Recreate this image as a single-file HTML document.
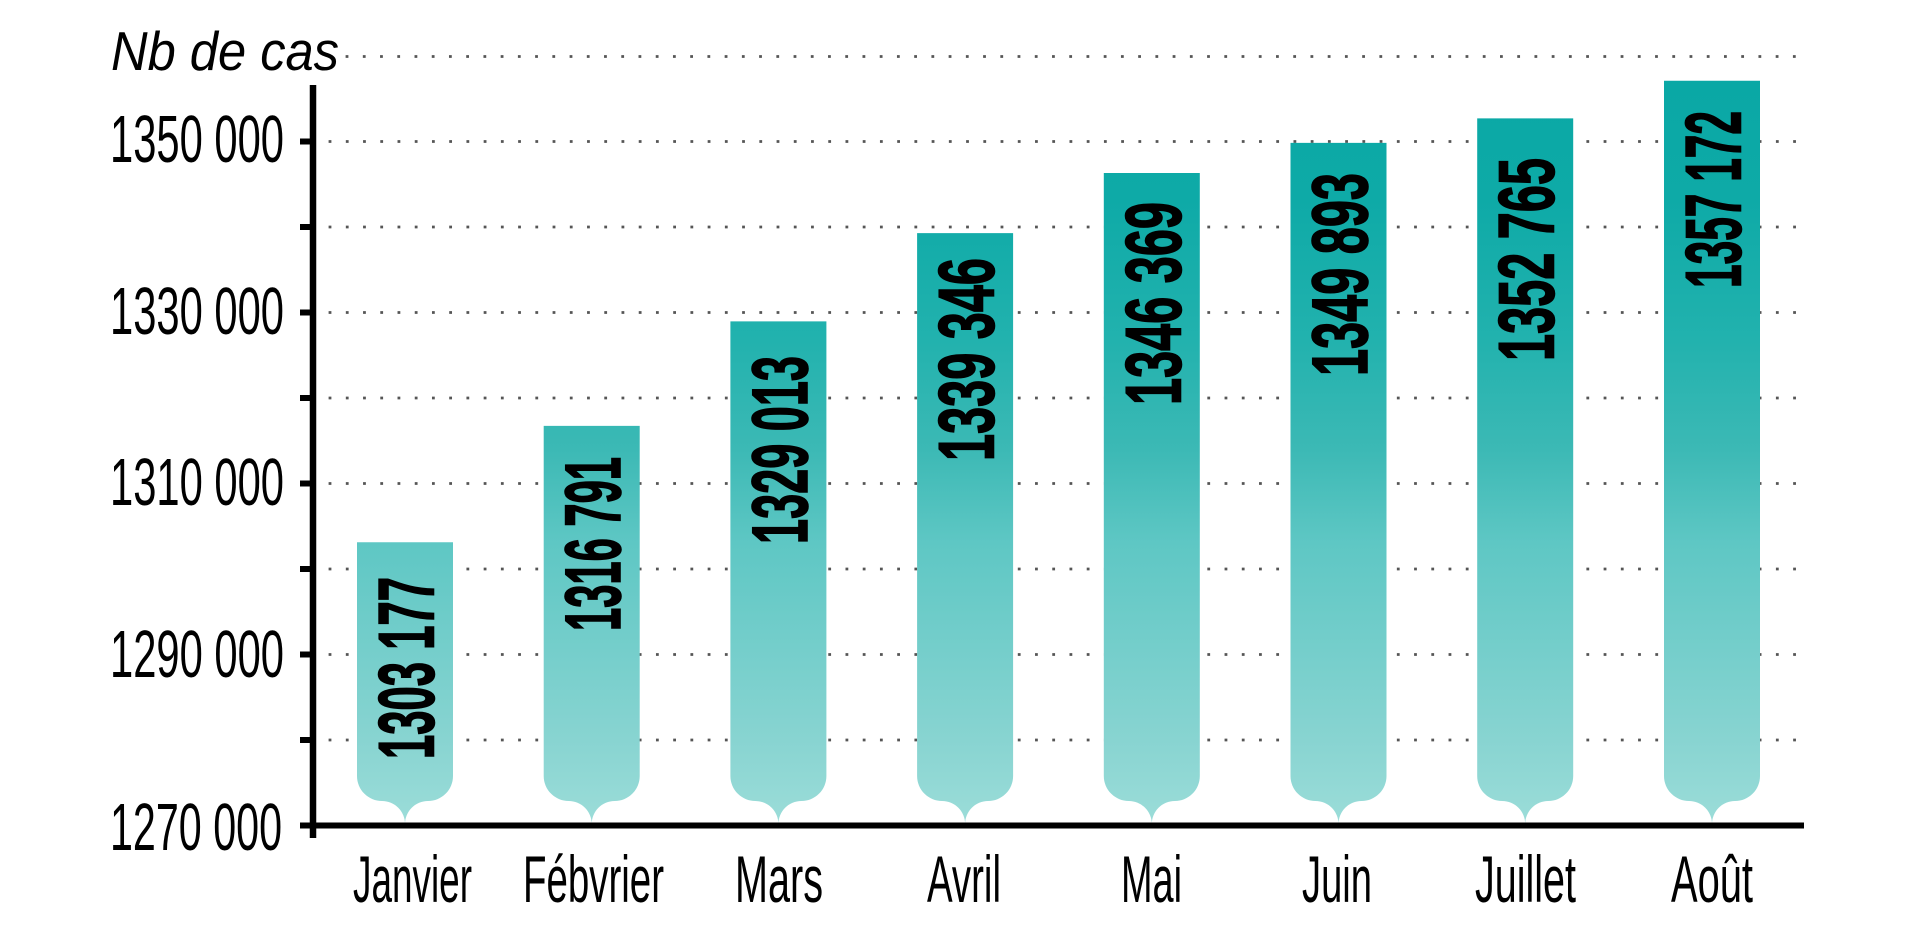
<!DOCTYPE html>
<html>
<head>
<meta charset="utf-8">
<style>
html,body{margin:0;padding:0;background:#fff;}
svg{display:block;}
</style>
</head>
<body>
<svg width="1920" height="948" viewBox="0 0 1920 948" xmlns="http://www.w3.org/2000/svg">
  <defs>
    <linearGradient id="g" gradientUnits="userSpaceOnUse" x1="0" y1="80" x2="0" y2="826">
      <stop offset="0" stop-color="#0aa8a5"/>
      <stop offset="0.16" stop-color="#0eaaa7"/>
      <stop offset="0.35" stop-color="#22b2ae"/>
      <stop offset="0.496" stop-color="#3cb9b5"/>
      <stop offset="0.62" stop-color="#5ec7c4"/>
      <stop offset="0.885" stop-color="#88d4d1"/>
      <stop offset="1" stop-color="#9cddd9"/>
    </linearGradient>
  </defs>

  <!-- dotted grid -->
  <g stroke="#555" stroke-width="2.8" stroke-dasharray="2.8 14.43" fill="none">
    <line x1="345.6" y1="56.5" x2="1797" y2="56.5"/>
    <line x1="328.6" y1="141.5" x2="1797" y2="141.5"/>
    <line x1="328.6" y1="227" x2="1797" y2="227"/>
    <line x1="328.6" y1="312.5" x2="1797" y2="312.5"/>
    <line x1="328.6" y1="398" x2="1797" y2="398"/>
    <line x1="328.6" y1="483.5" x2="1797" y2="483.5"/>
    <line x1="328.6" y1="569" x2="1797" y2="569"/>
    <line x1="328.6" y1="654.5" x2="1797" y2="654.5"/>
    <line x1="328.6" y1="740" x2="1797" y2="740"/>
  </g>

  <!-- bars -->
  <g fill="url(#g)">
    <path d="M357,542.3 H453 V776 A25,25 0 0 1 428,801 H428 A23,23 0 0 0 405,824 A23,23 0 0 0 382,801 H382 A25,25 0 0 1 357,776 Z"/>
    <path d="M543.7,425.9 H639.7 V776 A25,25 0 0 1 614.7,801 H614.7 A23,23 0 0 0 591.7,824 A23,23 0 0 0 568.7,801 H568.7 A25,25 0 0 1 543.7,776 Z"/>
    <path d="M730.4,321.4 H826.4 V776 A25,25 0 0 1 801.4,801 H801.4 A23,23 0 0 0 778.4,824 A23,23 0 0 0 755.4,801 H755.4 A25,25 0 0 1 730.4,776 Z"/>
    <path d="M917.1,233.1 H1013.1 V776 A25,25 0 0 1 988.1,801 H988.1 A23,23 0 0 0 965.1,824 A23,23 0 0 0 942.1,801 H942.1 A25,25 0 0 1 917.1,776 Z"/>
    <path d="M1103.8,173 H1199.8 V776 A25,25 0 0 1 1174.8,801 H1174.8 A23,23 0 0 0 1151.8,824 A23,23 0 0 0 1128.8,801 H1128.8 A25,25 0 0 1 1103.8,776 Z"/>
    <path d="M1290.5,142.9 H1386.5 V776 A25,25 0 0 1 1361.5,801 H1361.5 A23,23 0 0 0 1338.5,824 A23,23 0 0 0 1315.5,801 H1315.5 A25,25 0 0 1 1290.5,776 Z"/>
    <path d="M1477.2,118.4 H1573.2 V776 A25,25 0 0 1 1548.2,801 H1548.2 A23,23 0 0 0 1525.2,824 A23,23 0 0 0 1502.2,801 H1502.2 A25,25 0 0 1 1477.2,776 Z"/>
    <path d="M1664,80.7 H1760 V776 A25,25 0 0 1 1735,801 H1735 A23,23 0 0 0 1712,824 A23,23 0 0 0 1689,801 H1689 A25,25 0 0 1 1664,776 Z"/>
  </g>

  <!-- bar value labels -->
  <g font-family="'Liberation Sans', sans-serif" font-weight="bold" font-size="79" fill="#000" stroke="#000" stroke-width="1.6">
    <text transform="translate(433.5,759) rotate(-90)" textLength="182" lengthAdjust="spacingAndGlyphs">1303 177</text>
    <text transform="translate(620.2,631) rotate(-90)" textLength="174" lengthAdjust="spacingAndGlyphs">1316 791</text>
    <text transform="translate(806.9,544) rotate(-90)" textLength="188" lengthAdjust="spacingAndGlyphs">1329 013</text>
    <text transform="translate(993.6,461) rotate(-90)" textLength="203" lengthAdjust="spacingAndGlyphs">1339 346</text>
    <text transform="translate(1180.3,405) rotate(-90)" textLength="203" lengthAdjust="spacingAndGlyphs">1346 369</text>
    <text transform="translate(1367,376) rotate(-90)" textLength="203" lengthAdjust="spacingAndGlyphs">1349 893</text>
    <text transform="translate(1553.7,361) rotate(-90)" textLength="203" lengthAdjust="spacingAndGlyphs">1352 765</text>
    <text transform="translate(1740.5,288) rotate(-90)" textLength="177" lengthAdjust="spacingAndGlyphs">1357 172</text>
  </g>

  <!-- axes -->
  <g stroke="#000" fill="none">
    <line x1="313" y1="85" x2="313" y2="838" stroke-width="6.5"/>
    <line x1="300" y1="825.5" x2="1804" y2="825.5" stroke-width="6"/>
    <g stroke-width="6">
      <line x1="300" y1="141.5" x2="313" y2="141.5"/>
      <line x1="300" y1="227" x2="313" y2="227"/>
      <line x1="300" y1="312.5" x2="313" y2="312.5"/>
      <line x1="300" y1="398" x2="313" y2="398"/>
      <line x1="300" y1="483.5" x2="313" y2="483.5"/>
      <line x1="300" y1="569" x2="313" y2="569"/>
      <line x1="300" y1="654.5" x2="313" y2="654.5"/>
      <line x1="300" y1="740" x2="313" y2="740"/>
    </g>
  </g>

  <!-- title -->
  <text x="111" y="70" font-family="'Liberation Sans', sans-serif" font-style="italic" font-size="55" fill="#000" textLength="228" lengthAdjust="spacingAndGlyphs">Nb de cas</text>

  <!-- y labels -->
  <g font-family="'Liberation Sans', sans-serif" font-size="67" fill="#000">
    <text x="110" y="162" textLength="174" lengthAdjust="spacingAndGlyphs">1350 000</text>
    <text x="110" y="334" textLength="174" lengthAdjust="spacingAndGlyphs">1330 000</text>
    <text x="110" y="505" textLength="174" lengthAdjust="spacingAndGlyphs">1310 000</text>
    <text x="110" y="677" textLength="174" lengthAdjust="spacingAndGlyphs">1290 000</text>
    <text x="110" y="850" textLength="172" lengthAdjust="spacingAndGlyphs">1270 000</text>
  </g>

  <!-- x labels -->
  <g font-family="'Liberation Sans', sans-serif" font-size="66" fill="#000">
    <text x="353" y="902" textLength="119" lengthAdjust="spacingAndGlyphs">Janvier</text>
    <text x="523" y="902" textLength="141" lengthAdjust="spacingAndGlyphs">Fébvrier</text>
    <text x="735" y="902" textLength="88" lengthAdjust="spacingAndGlyphs">Mars</text>
    <text x="927" y="902" textLength="74" lengthAdjust="spacingAndGlyphs">Avril</text>
    <text x="1121" y="902" textLength="61" lengthAdjust="spacingAndGlyphs">Mai</text>
    <text x="1302" y="902" textLength="70" lengthAdjust="spacingAndGlyphs">Juin</text>
    <text x="1475" y="902" textLength="101" lengthAdjust="spacingAndGlyphs">Juillet</text>
    <text x="1671" y="902" textLength="82" lengthAdjust="spacingAndGlyphs">Août</text>
  </g>
</svg>
</body>
</html>
